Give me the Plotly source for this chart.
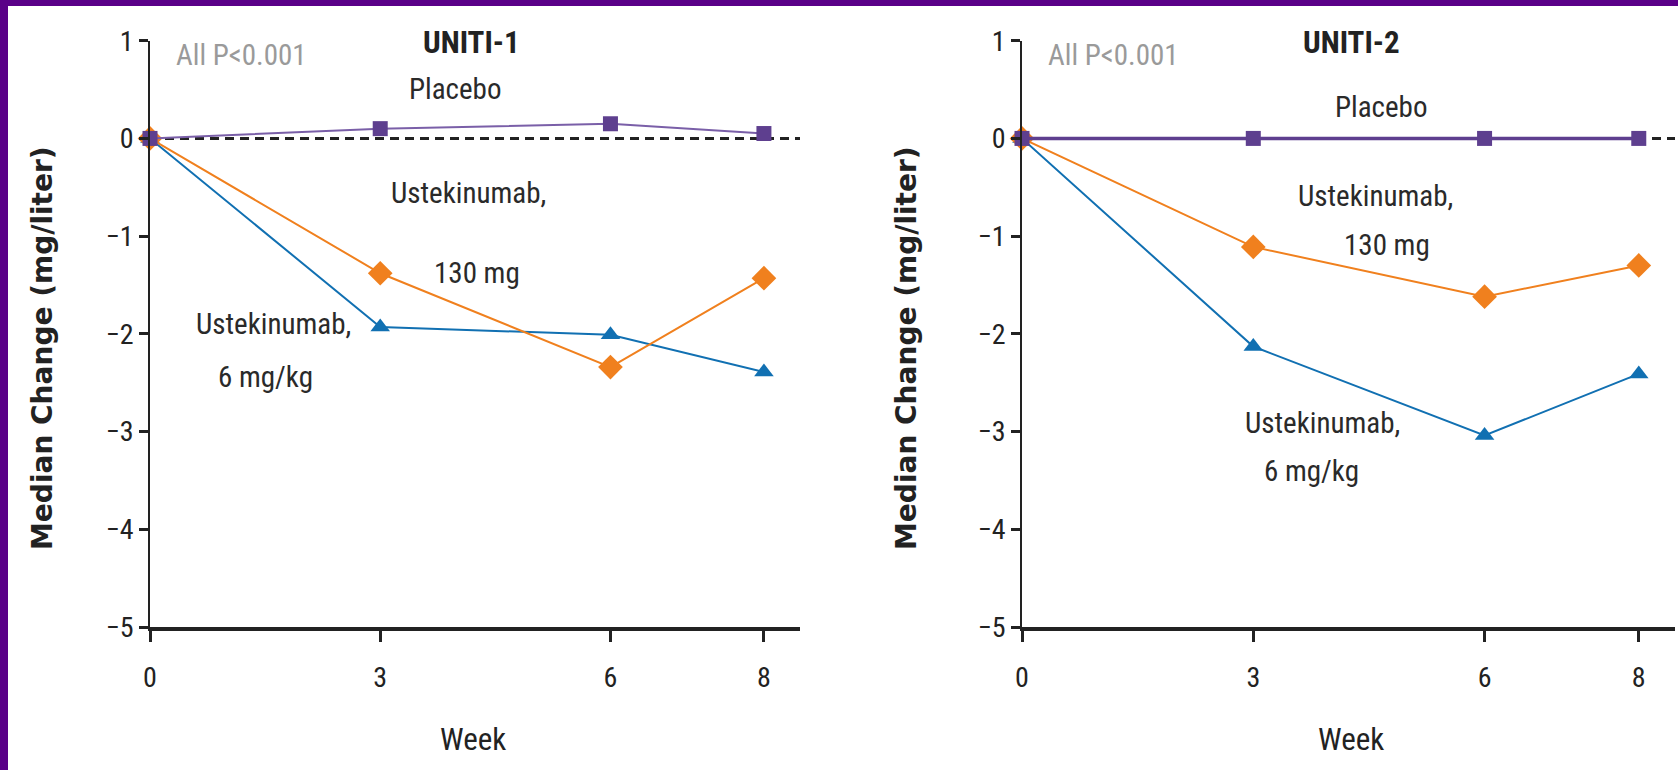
import plotly.graph_objects as go

weeks = [0, 3, 6, 8]
# UNITI-1
u1_placebo = [0, 0.10, 0.15, 0.05]
u1_130mg = [0, -1.38, -2.34, -1.43]
u1_6mgkg = [0, -1.93, -2.01, -2.39]
# UNITI-2
u2_placebo = [0, 0, 0, 0]
u2_130mg = [0, -1.11, -1.62, -1.30]
u2_6mgkg = [0, -2.13, -3.04, -2.41]

y_ticks = [1, 0, -1, -2, -3, -4, -5]
x_ticks = [0, 3, 6, 8]

PURPLE = "#5E3F8F"
ORANGE = "#F0801E"
BLUE = "#1170B2"
W, H = 1678, 770
COND = "Liberation Sans Narrow, Roboto Condensed, DejaVu Sans Condensed, Arial Narrow, sans-serif"

fig = go.Figure()


def add_series(xa, ya, placebo, mg130, mgkg, pw, pcol):
    fig.add_trace(go.Scatter(x=weeks, y=mgkg, mode="lines+markers", xaxis=xa, yaxis=ya,
                             line=dict(color=BLUE, width=2),
                             marker=dict(symbol="triangle-up", size=17, color=BLUE),
                             cliponaxis=False, showlegend=False))
    fig.add_trace(go.Scatter(x=weeks, y=mg130, mode="lines+markers", xaxis=xa, yaxis=ya,
                             line=dict(color=ORANGE, width=2),
                             marker=dict(symbol="diamond", size=19, color=ORANGE),
                             cliponaxis=False, showlegend=False))
    fig.add_trace(go.Scatter(x=weeks, y=placebo, mode="lines+markers", xaxis=xa, yaxis=ya,
                             line=dict(color=pcol, width=pw),
                             marker=dict(symbol="square", size=15, color=PURPLE),
                             cliponaxis=False, showlegend=False))


add_series("x", "y", u1_placebo, u1_130mg, u1_6mgkg, 2, "#7A5FA8")
add_series("x2", "y2", u2_placebo, u2_130mg, u2_6mgkg, 3.5, PURPLE)

ytop = 1 - 40.7 / H
ybot = 1 - 627 / H

xcommon = dict(range=[0, 8.47], tickvals=x_ticks, ticks="outside", ticklen=11, tickwidth=2.5,
               tickcolor="#222", showline=True, linecolor="#222", linewidth=3.5,
               showgrid=False, zeroline=False, automargin=False, ticklabelstandoff=12,
               tickfont=dict(family=COND, size=28, color="#222"))
ycommon = dict(range=[-5, 1], tickvals=y_ticks, ticks="outside", ticklen=9, tickwidth=2.5,
               tickcolor="#222", showline=True, linecolor="#222", linewidth=1.5,
               showgrid=False, zeroline=False, domain=[ybot, ytop], automargin=False,
               tickfont=dict(family=COND, size=28, color="#222"))

fig.update_layout(
    width=W, height=H, margin=dict(l=0, r=0, t=0, b=0, autoexpand=False),
    paper_bgcolor="white", plot_bgcolor="white",
    xaxis=dict(xcommon, domain=[150 / W, 800 / W], anchor="y"),
    yaxis=dict(ycommon, anchor="x"),
    xaxis2=dict(xcommon, domain=[1022 / W, 1675 / W], anchor="y2"),
    yaxis2=dict(ycommon, anchor="x2"),
)

# dashed zero reference lines
for xr, yr in (("x domain", "y"), ("x2 domain", "y2")):
    fig.add_shape(type="line", xref=xr, yref=yr, x0=0, x1=1, y0=0, y1=0,
                  line=dict(color="#222", width=3, dash="9px,6px"), layer="below")

# purple border (left and top)
fig.add_shape(type="rect", xref="paper", yref="paper", x0=0, x1=8 / W, y0=0, y1=1,
              fillcolor="#5A0088", line=dict(width=0), layer="above")
fig.add_shape(type="rect", xref="paper", yref="paper", x0=0, x1=1, y0=1 - 6 / H, y1=1,
              fillcolor="#5A0088", line=dict(width=0), layer="above")


def ann(text, x, y, size=29, color="#2a2a2a", family=COND, bold=False, angle=0):
    if bold:
        text = "<b>" + text + "</b>"
    fig.add_annotation(text=text, x=x / W, y=1 - y / H, xref="paper", yref="paper",
                       showarrow=False, xanchor="center", yanchor="middle",
                       font=dict(family=family, size=size, color=color), textangle=angle)


BOLDF = "DejaVu Sans, Verdana, sans-serif"
for cx in (43, 907):
    ann("Median Change (mg/liter)", cx, 348, size=28, family=BOLDF, bold=True, color="#222", angle=-90)

ann("UNITI-1", 471, 43, size=31, bold=True, color="#222")
ann("UNITI-2", 1351, 43, size=31, bold=True, color="#222")
ann("All P<0.001", 241, 55, size=29, color="#9a9a9a")
ann("All P<0.001", 1113, 55, size=29, color="#9a9a9a")
ann("Week", 473, 739, size=31, color="#222")
ann("Week", 1351, 739, size=31, color="#222")

ann("Placebo", 455, 89)
ann("Ustekinumab,", 468, 193)
ann("130 mg", 477, 273)
ann("Ustekinumab,", 273, 324)
ann("6 mg/kg", 265, 377)

ann("Placebo", 1381, 107)
ann("Ustekinumab,", 1375, 196)
ann("130 mg", 1387, 245)
ann("Ustekinumab,", 1322, 423)
ann("6 mg/kg", 1311, 471)

fig.write_html("out.html")
